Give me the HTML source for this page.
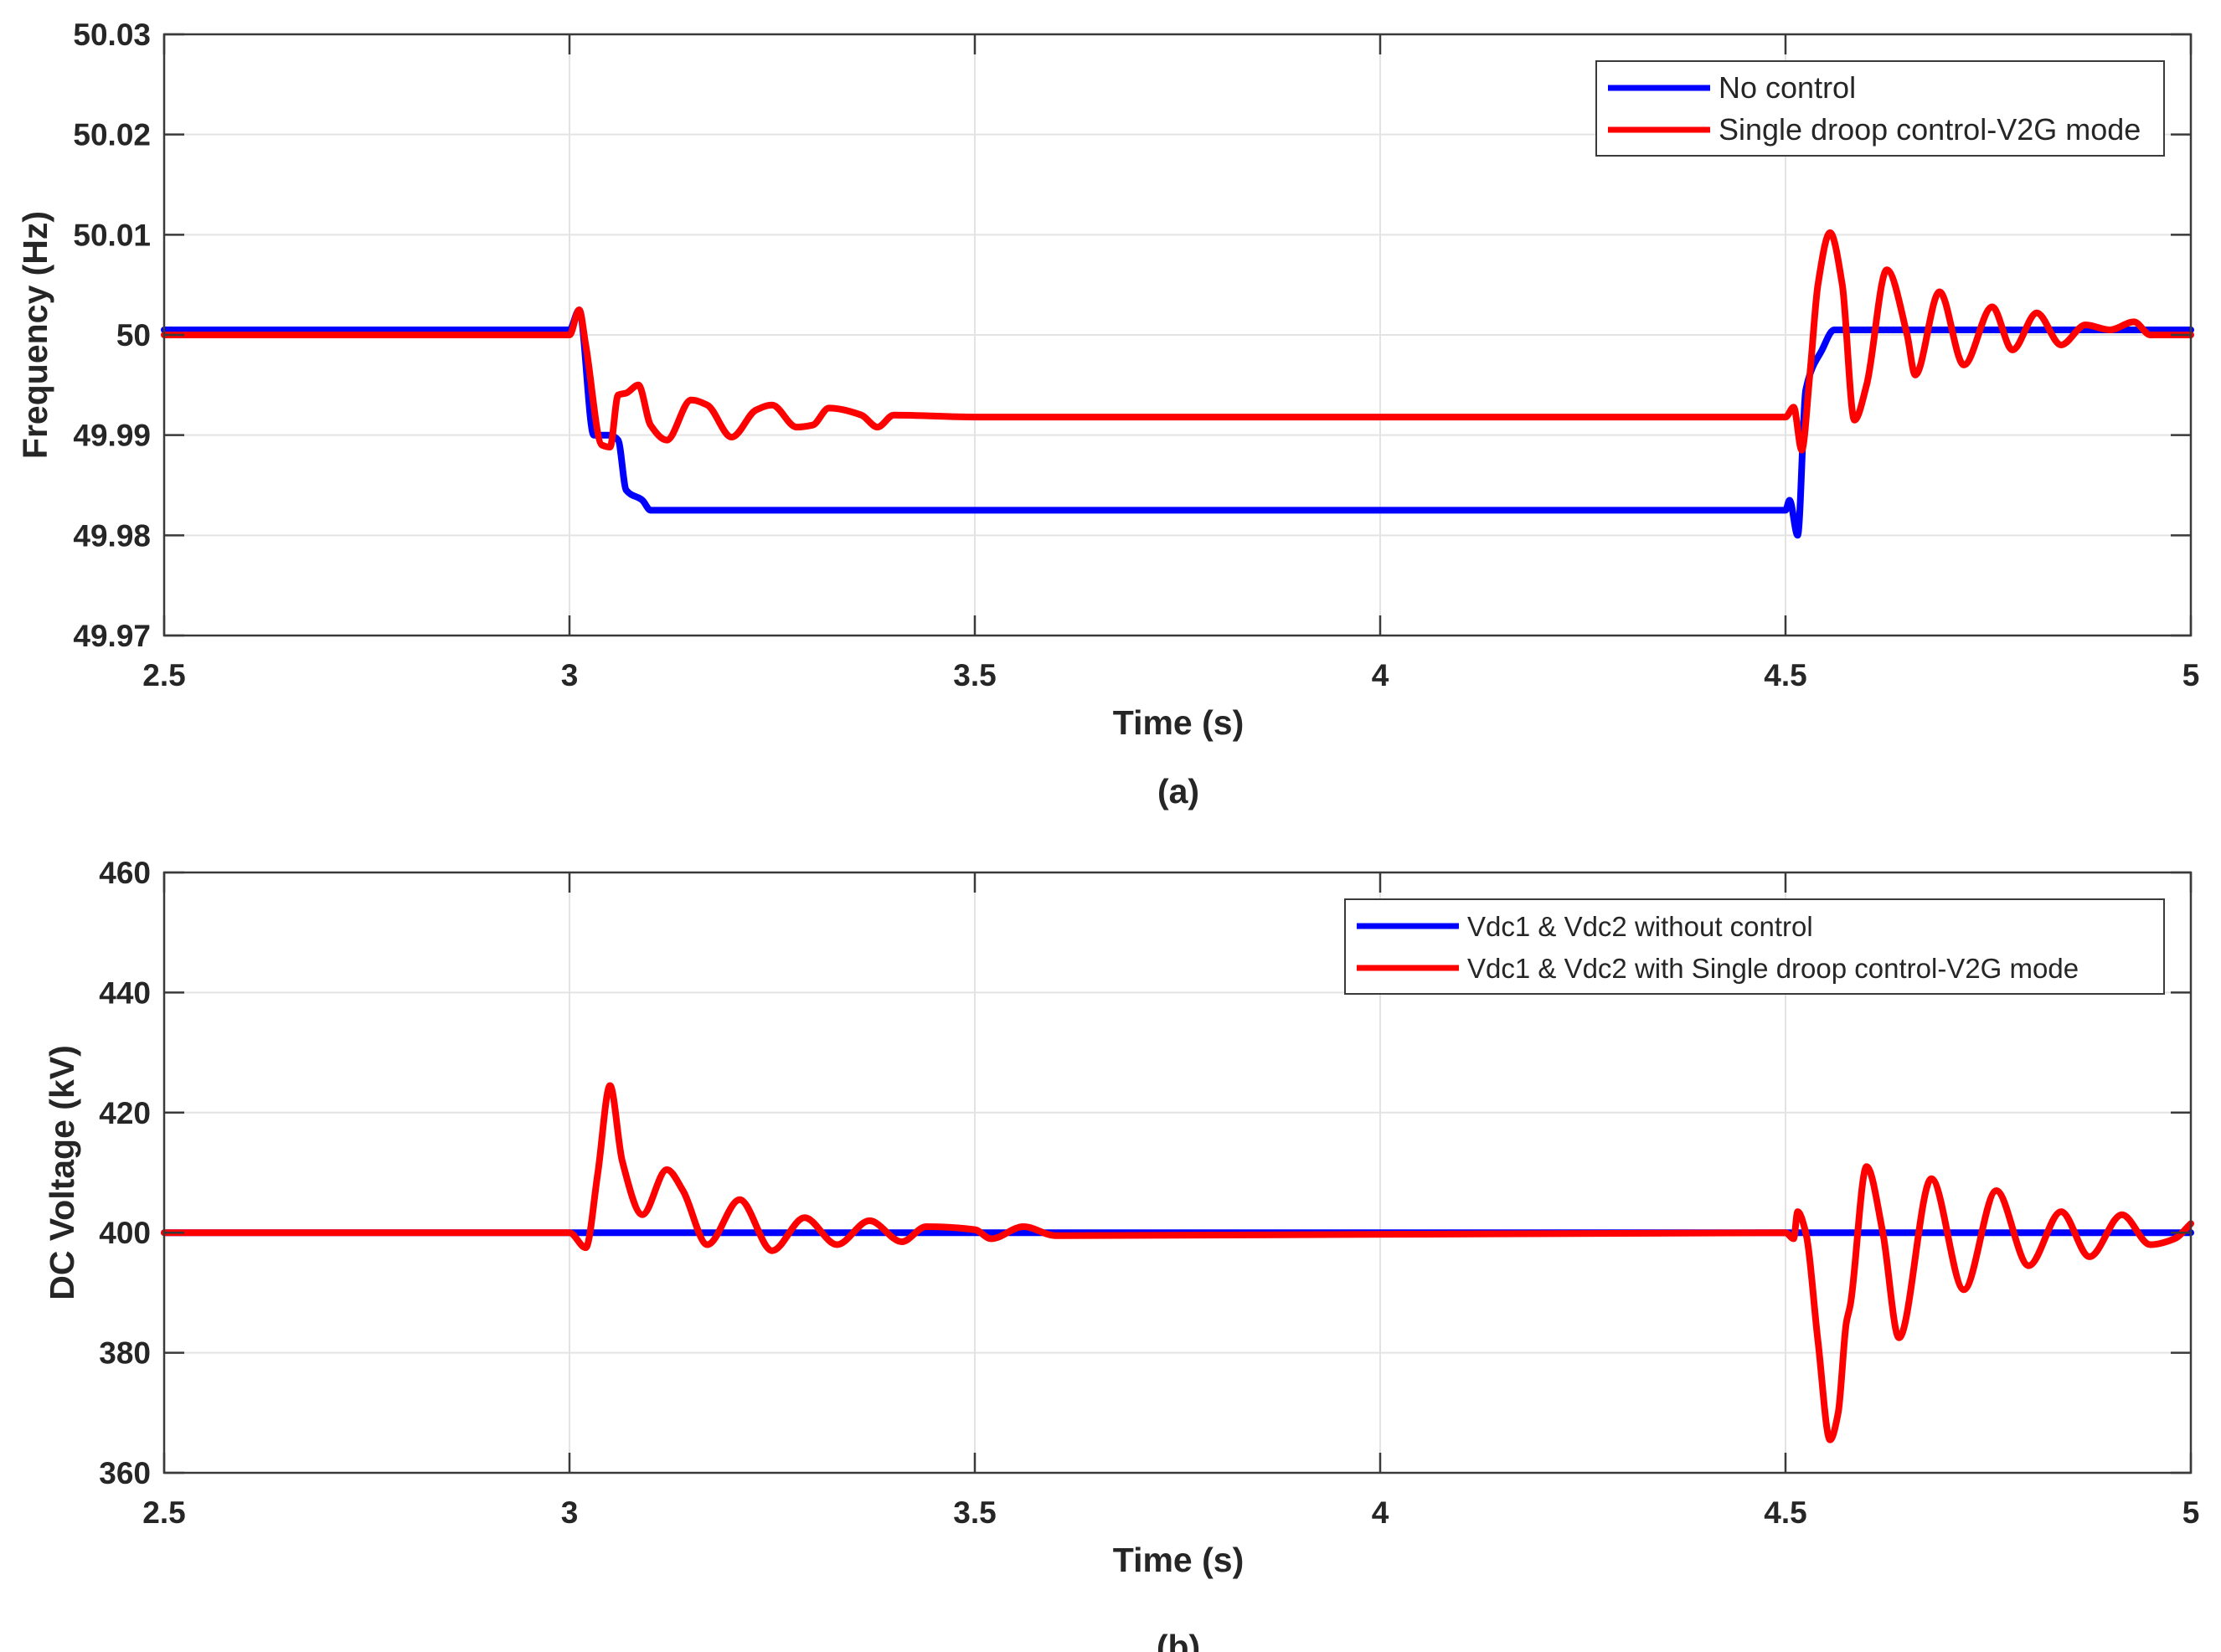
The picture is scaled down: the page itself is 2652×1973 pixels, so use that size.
<!DOCTYPE html>
<html><head><meta charset="utf-8"><style>
html,body{margin:0;padding:0;background:#fff;overflow:hidden;}
svg{display:block;}
text{font-family:"Liberation Sans",Arial,sans-serif;fill:#262626;}
</style></head><body>
<svg id="fig" width="2652" height="1973" viewBox="0 0 2652 1973" xmlns="http://www.w3.org/2000/svg"></svg>
<script>
// ---- Data ----
const xTicks = [2.5, 3, 3.5, 4, 4.5, 5];
const xTickLabels = ["2.5", "3", "3.5", "4", "4.5", "5"];
const freqTicks = [49.97, 49.98, 49.99, 50, 50.01, 50.02, 50.03];
const freqTickLabels = ["49.97", "49.98", "49.99", "50", "50.01", "50.02", "50.03"];
const voltTicks = [360, 380, 400, 420, 440, 460];
const voltTickLabels = ["360", "380", "400", "420", "440", "460"];

const freqNoCtrlT = [2.5, 3.0, 3.012, 3.03, 3.05, 3.06, 3.07, 3.09, 3.1, 4.5, 4.505, 4.515, 4.525, 4.545, 4.56, 4.6, 5.0];
const freqNoCtrlV = [50.0005, 50.0005, 50.0025, 49.99, 49.99, 49.9895, 49.9845, 49.9835, 49.9825, 49.9825, 49.9835, 49.98, 49.9945, 49.9985, 50.0005, 50.0005, 50.0005];

const freqDroopT = [2.5, 3.0, 3.012, 3.02, 3.04, 3.05, 3.06, 3.07, 3.085, 3.1, 3.12, 3.15, 3.17, 3.2, 3.23, 3.25, 3.28, 3.3, 3.32, 3.36, 3.38, 3.4, 3.5, 4.5, 4.51, 4.52, 4.53, 4.54, 4.555, 4.57, 4.585, 4.6, 4.625, 4.65, 4.66, 4.69, 4.72, 4.755, 4.78, 4.81, 4.84, 4.87, 4.9, 4.93, 4.95, 5.0];
const freqDroopV = [50.0, 50.0, 50.0025, 49.999, 49.989, 49.9888, 49.994, 49.9942, 49.995, 49.991, 49.9895, 49.9935, 49.993, 49.9898, 49.9925, 49.993, 49.9908, 49.991, 49.9927, 49.992, 49.9908, 49.992, 49.9918, 49.9918, 49.9928, 49.9885, 49.996, 50.005, 50.0102, 50.005, 49.9915, 49.995, 50.0065, 50.0, 49.996, 50.0043, 49.997, 50.0028, 49.9985, 50.0022, 49.999, 50.001, 50.0005, 50.0013, 50.0, 50.0];

const voltNoCtrlT = [2.5, 5.0];
const voltNoCtrlV = [400, 400];

const voltDroopT = [2.5, 3.0, 3.02, 3.035, 3.05, 3.065, 3.09, 3.12, 3.14, 3.17, 3.21, 3.25, 3.29, 3.33, 3.37, 3.41, 3.44, 3.5, 3.52, 3.56, 3.6, 4.5, 4.51, 4.515, 4.525, 4.54, 4.555, 4.565, 4.575, 4.58, 4.6, 4.62, 4.64, 4.68, 4.72, 4.76, 4.8, 4.84, 4.875, 4.915, 4.95, 4.98, 5.0];
const voltDroopV = [400, 400, 397.5, 410, 424.5, 412, 403, 410.5, 407, 398, 405.5, 397, 402.5, 398, 402, 398.5, 401, 400.5, 399, 401, 399.5, 400, 399, 403.5, 400, 382, 365.5, 370, 385, 388, 411, 400, 382.5, 409, 390.5, 407, 394.5, 403.5, 396, 403, 398, 399, 401.5];

const NS = "http://www.w3.org/2000/svg";
const svg = document.getElementById('fig');
function mk(tag, attrs, parent){
  const e = document.createElementNS(NS, tag);
  for (const k in attrs) e.setAttribute(k, attrs[k]);
  (parent||svg).appendChild(e);
  return e;
}
// monotone cubic in x (Fritsch-Carlson)
function smoothPath(pts){
  const n = pts.length;
  if (n < 3) return pts.map((p,i)=>(i?'L':'M')+p[0].toFixed(1)+' '+p[1].toFixed(1)).join(' ');
  const d = [], m = new Array(n);
  for (let i = 0; i < n-1; i++) d.push((pts[i+1][1]-pts[i][1])/(pts[i+1][0]-pts[i][0]));
  m[0] = d[0]; m[n-1] = d[n-2];
  for (let i = 1; i < n-1; i++){
    if (d[i-1]*d[i] <= 0) m[i] = 0;
    else {
      const h0 = pts[i][0]-pts[i-1][0], h1 = pts[i+1][0]-pts[i][0];
      const w1 = 2*h1+h0, w2 = h1+2*h0;
      m[i] = (w1+w2)/(w1/d[i-1]+w2/d[i]);
    }
  }
  let s = 'M' + pts[0][0].toFixed(1) + ' ' + pts[0][1].toFixed(1);
  for (let i = 0; i < n-1; i++){
    const h = (pts[i+1][0]-pts[i][0])/3;
    s += ' C' + (pts[i][0]+h).toFixed(1) + ' ' + (pts[i][1]+m[i]*h).toFixed(1) + ' ' +
         (pts[i+1][0]-h).toFixed(1) + ' ' + (pts[i+1][1]-m[i+1]*h).toFixed(1) + ' ' +
         pts[i+1][0].toFixed(1) + ' ' + pts[i+1][1].toFixed(1);
  }
  return s;
}

function drawPanel(cfg){
  const L = 196, R = 2616, T = cfg.top, B = cfg.bottom;
  const xs = t => L + (t - 2.5) / 2.5 * (R - L);
  const ys = v => B - (v - cfg.ymin) / (cfg.ymax - cfg.ymin) * (B - T);
  const g = mk('g', {});
  
  
  xTicks.forEach(t => {
    const l = mk('line', {x1: xs(t), x2: xs(t), y1: T, y2: B, stroke: '#e3e3e3', 'stroke-width': 2}, g);
    
    
  });
  cfg.yticks.forEach(v => {
    const l = mk('line', {x1: L, x2: R, y1: ys(v), y2: ys(v), stroke: '#e3e3e3', 'stroke-width': 2}, g);
    
    
  });
  cfg.series.forEach(s => {
    const pts = s.t.map((t, i) => [xs(t), ys(s.v[i])]);
    const p = mk('path', {d: smoothPath(pts), fill: 'none', stroke: s.color, 'stroke-width': 8, 'stroke-linejoin': 'round', 'stroke-linecap': 'round'}, g);
    
    
  });
  const box = mk('rect', {x: L, y: T, width: R - L, height: B - T, fill: 'none', stroke: '#3a3a3a', 'stroke-width': 2.5}, g);
  
  
  xTicks.forEach((t, i) => {
    mk('line', {x1: xs(t), x2: xs(t), y1: B, y2: B - 24, stroke: '#3a3a3a', 'stroke-width': 2.5}, g);
    mk('line', {x1: xs(t), x2: xs(t), y1: T, y2: T + 24, stroke: '#3a3a3a', 'stroke-width': 2.5}, g);
    const tx = mk('text', {x: xs(t), y: B + 60, 'text-anchor': 'middle', 'font-size': 37, 'font-weight': 'bold'}, g);
    tx.textContent = xTickLabels[i];
    
    
  });
  cfg.yticks.forEach((v, i) => {
    mk('line', {x1: L, x2: L + 24, y1: ys(v), y2: ys(v), stroke: '#3a3a3a', 'stroke-width': 2.5}, g);
    mk('line', {x1: R, x2: R - 24, y1: ys(v), y2: ys(v), stroke: '#3a3a3a', 'stroke-width': 2.5}, g);
    const tx = mk('text', {x: 180, y: ys(v) + 13, 'text-anchor': 'end', 'font-size': 37, 'font-weight': 'bold'}, g);
    tx.textContent = cfg.ylabels[i];
    
    
  });
  const xt = mk('text', {x: 1407, y: B + 118, 'text-anchor': 'middle', 'font-size': 41, 'font-weight': 'bold'}, g);
  xt.textContent = 'Time (s)';
  
  
  const yt = mk('text', {x: 0, y: 0, 'text-anchor': 'middle', 'font-size': 41, 'font-weight': 'bold', transform: 'translate(' + cfg.ytitleX + ',' + ((T + B) / 2) + ') rotate(-90)'}, g);
  yt.textContent = cfg.ytitle;
  
  
  const cap = mk('text', {x: 1407, y: B + cfg.capDy, 'text-anchor': 'middle', 'font-size': 41, 'font-weight': 'bold'}, g);
  cap.textContent = cfg.caption;
  
  
  const lg = mk('g', {}, g);
  
  
  mk('rect', {x: cfg.legX, y: cfg.legY, width: 2584 - cfg.legX, height: 113, fill: '#fff', stroke: '#3a3a3a', 'stroke-width': 2}, lg);
  cfg.series.forEach((s, i) => {
    const yy = cfg.legY + 32 + i * 50;
    mk('line', {x1: cfg.legX + 14, x2: cfg.legX + 136, y1: yy, y2: yy, stroke: s.color, 'stroke-width': 7}, lg);
    const tx = mk('text', {x: cfg.legX + 146, y: yy + 12, 'font-size': 34, style: cfg.legFont}, lg);
    tx.textContent = s.label;
    
    
  });
}

drawPanel({
  name: 'frequency-panel', top: 41, bottom: 759, ymin: 49.97, ymax: 50.03,
  yticks: freqTicks, ylabels: freqTickLabels, ytitle: 'Frequency (Hz)', ytitleX: 56, caption: '(a)', capDy: 200,
  legX: 1906, legY: 73, legFont: 'font-family:"Liberation Sans Narrow","Liberation Sans",sans-serif;font-size:36px',
  series: [
    {name: 'no-control-line', label: 'No control', color: '#0000ff', t: freqNoCtrlT, v: freqNoCtrlV},
    {name: 'single-droop-line', label: 'Single droop control-V2G mode', color: '#ff0000', t: freqDroopT, v: freqDroopV}
  ]
});
drawPanel({
  name: 'dc-voltage-panel', top: 1042, bottom: 1759, ymin: 360, ymax: 460,
  yticks: voltTicks, ylabels: voltTickLabels, ytitle: 'DC Voltage (kV)', ytitleX: 88, caption: '(b)', capDy: 222,
  legX: 1606, legY: 1074, legFont: 'font-family:"Liberation Sans",sans-serif;font-size:33px',
  series: [
    {name: 'vdc-without-control-line', label: 'Vdc1 & Vdc2 without control', color: '#0000ff', t: voltNoCtrlT, v: voltNoCtrlV},
    {name: 'vdc-single-droop-line', label: 'Vdc1 & Vdc2 with Single droop control-V2G mode', color: '#ff0000', t: voltDroopT, v: voltDroopV}
  ]
});
</script>
</body></html>
